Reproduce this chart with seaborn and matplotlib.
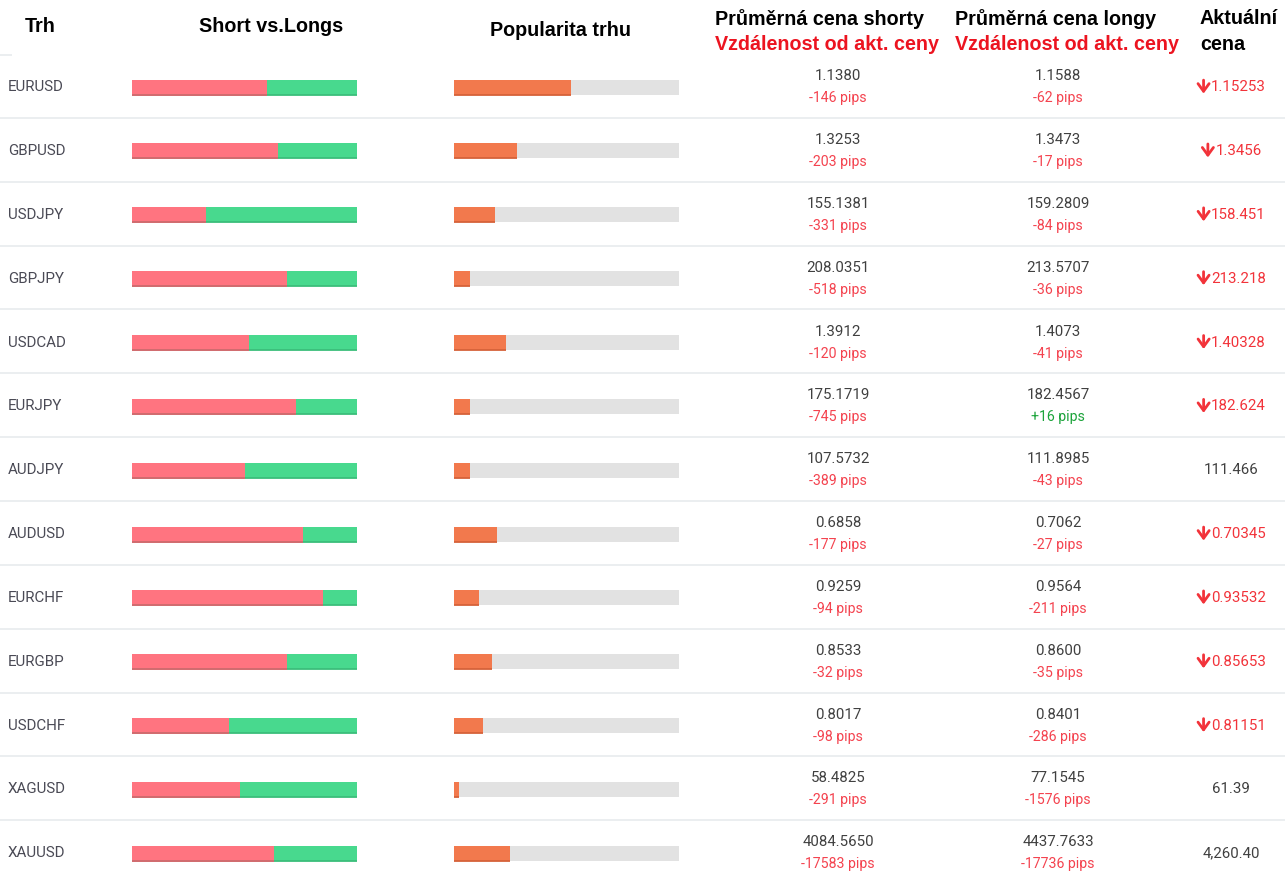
import seaborn as sns
import matplotlib.pyplot as plt

pairs = ["EURUSD", "GBPUSD", "USDJPY", "GBPJPY", "USDCAD", "EURJPY", "AUDJPY",
         "AUDUSD", "EURCHF", "EURGBP", "USDCHF", "XAGUSD", "XAUUSD"]
short_pct = [60, 65, 33, 69, 52, 73, 50, 76, 85, 69, 43, 48, 63]
long_pct = [40, 35, 67, 31, 48, 27, 50, 24, 15, 31, 57, 52, 37]
popularity = [52, 28, 18, 7, 23, 7, 7, 19, 11, 17, 13, 2, 25]
avg_short = ["1.1380", "1.3253", "155.1381", "208.0351", "1.3912", "175.1719", "107.5732",
             "0.6858", "0.9259", "0.8533", "0.8017", "58.4825", "4084.5650"]
short_pips = [-146, -203, -331, -518, -120, -745, -389, -177, -94, -32, -98, -291, -17583]
avg_long = ["1.1588", "1.3473", "159.2809", "213.5707", "1.4073", "182.4567", "111.8985",
            "0.7062", "0.9564", "0.8600", "0.8401", "77.1545", "4437.7633"]
long_pips = [-62, -17, -84, -36, -41, 16, -43, -27, -211, -35, -286, -1576, -17736]
current = ["1.15253", "1.3456", "158.451", "213.218", "1.40328", "182.624", "111.466",
           "0.70345", "0.93532", "0.85653", "0.81151", "61.39", "4,260.40"]
falling = [True, True, True, True, True, True, False, True, True, True, True, False, False]

RED_BAR, RED_EDGE = "#FF7480", "#E0646E"
GREEN_BAR, GREEN_EDGE = "#48D98E", "#3BBE7B"
ORANGE_BAR, ORANGE_EDGE = "#F2794D", "#D6623A"
GRAY_BAR = "#E2E2E2"
PIPS_RED = "#F4434F"
PIPS_GREEN = "#1BA33A"
PRICE_RED = "#F2333A"
HEAD_RED = "#EC1420"
TEXT = "#404040"

sns.set_style("white")
W, H = 1285, 891
fig = plt.figure(figsize=(W / 100, H / 100), dpi=100)
fig.patch.set_facecolor("white")

ax = fig.add_axes([0, 0, 1, 1])
ax.set_xlim(0, W)
ax.set_ylim(H, 0)
ax.axis("off")

top, row_h = 54, 63.85
shift = 1.2  # content sits slightly below the row middle
n = len(pairs)
body = ["Roboto", "DejaVu Sans"]
head = ["Liberation Sans", "DejaVu Sans"]

# header
hs = 14.2
hk = dict(va="center", fontsize=hs, fontweight="bold", family=head, color="black")
ax.text(25, 26, "Trh", ha="left", **hk)
ax.text(271, 26, "Short vs.Longs", ha="center", **hk)
ax.text(560, 31, "Popularita trhu", ha="center", **hk)
ax.text(715, 19, "Průměrná cena shorty", ha="left", **hk)
ax.text(955, 19, "Průměrná cena longy", ha="left", **hk)
ax.text(1200, 19, "Aktuální", ha="left", **hk)
ax.text(1200, 44, "cena", ha="left", **hk)
hk["color"] = HEAD_RED
ax.text(715, 44, "Vzdálenost od akt. ceny", ha="left", **hk)
ax.text(955, 44, "Vzdálenost od akt. ceny", ha="left", **hk)

# row separators
ax.hlines(top + 1, 0, 12, color="#E8EBEE", lw=1.2)
for k in range(1, n):
    ax.hlines(top + row_h * k, 0, W, color="#E8EBEE", lw=1.2)

renderer = fig.canvas.get_renderer()
inv = ax.transData.inverted()
arrow_w = 15

for i, pair in enumerate(pairs):
    yc = top + row_h * (i + 0.5) + shift
    ax.text(8, yc, pair, ha="left", va="center", fontsize=10.9, family=body, color="#4A4A55")
    ax.text(838, yc - 11, avg_short[i], ha="center", va="center", fontsize=10.8, family=body, color=TEXT)
    ax.text(838, yc + 11, f"{short_pips[i]:+d} pips", ha="center", va="center", fontsize=10.2,
            family=body, color=PIPS_RED if short_pips[i] < 0 else PIPS_GREEN)
    ax.text(1058, yc - 11, avg_long[i], ha="center", va="center", fontsize=10.8, family=body, color=TEXT)
    ax.text(1058, yc + 11, f"{long_pips[i]:+d} pips", ha="center", va="center", fontsize=10.2,
            family=body, color=PIPS_RED if long_pips[i] < 0 else PIPS_GREEN)
    if falling[i]:
        num = ax.text(1231 + arrow_w / 2, yc, current[i], ha="center", va="center", fontsize=10.8,
                      family=body, color=PRICE_RED)
        left = inv.transform(num.get_window_extent(renderer).p0)[0]
        xa = left - arrow_w / 2
        ax.annotate("", xy=(xa, yc + 6.5), xytext=(xa, yc - 7),
                    arrowprops=dict(arrowstyle="->,head_length=0.55,head_width=0.4",
                                    lw=2.0, color=PRICE_RED, shrinkA=0, shrinkB=0))
    else:
        ax.text(1231, yc, current[i], ha="center", va="center", fontsize=10.8, family=body, color=TEXT)


def bar_axes(x0, width):
    bottom = H - (top + shift + row_h * n)
    return fig.add_axes([x0 / W, bottom / H, width / W, row_h * n / H])


def edge_lines(a, color, bars):
    for p in bars:
        a.hlines(p.get_y() + p.get_height(), p.get_x(), p.get_x() + p.get_width(),
                 color=color, lw=1.3)


bar_w = 15 / row_h
bk = dict(orient="h", saturation=1, width=bar_w, linewidth=0, edgecolor="none")
totals = [s + l for s, l in zip(short_pct, long_pct)]

# Short vs Longs
ax_sl = bar_axes(132, 225)
sns.barplot(x=totals, y=pairs, color=GREEN_BAR, ax=ax_sl, **bk)
green_bars = list(ax_sl.patches)
sns.barplot(x=short_pct, y=pairs, color=RED_BAR, ax=ax_sl, **bk)
red_bars = ax_sl.patches[len(green_bars):]
edge_lines(ax_sl, GREEN_EDGE, green_bars)
edge_lines(ax_sl, RED_EDGE, red_bars)
ax_sl.set_xlim(0, 100)
ax_sl.set_ylim(n - 0.5, -0.5)
ax_sl.axis("off")

# Popularita trhu
ax_pop = bar_axes(454, 225)
full = [100] * n
sns.barplot(x=full, y=pairs, color=GRAY_BAR, ax=ax_pop, **bk)
gray_bars = list(ax_pop.patches)
sns.barplot(x=popularity, y=pairs, color=ORANGE_BAR, ax=ax_pop, **bk)
orange_bars = ax_pop.patches[len(gray_bars):]
edge_lines(ax_pop, ORANGE_EDGE, orange_bars)
ax_pop.set_xlim(0, 100)
ax_pop.set_ylim(n - 0.5, -0.5)
ax_pop.axis("off")

fig.savefig("out.png", dpi=100, facecolor="white")
